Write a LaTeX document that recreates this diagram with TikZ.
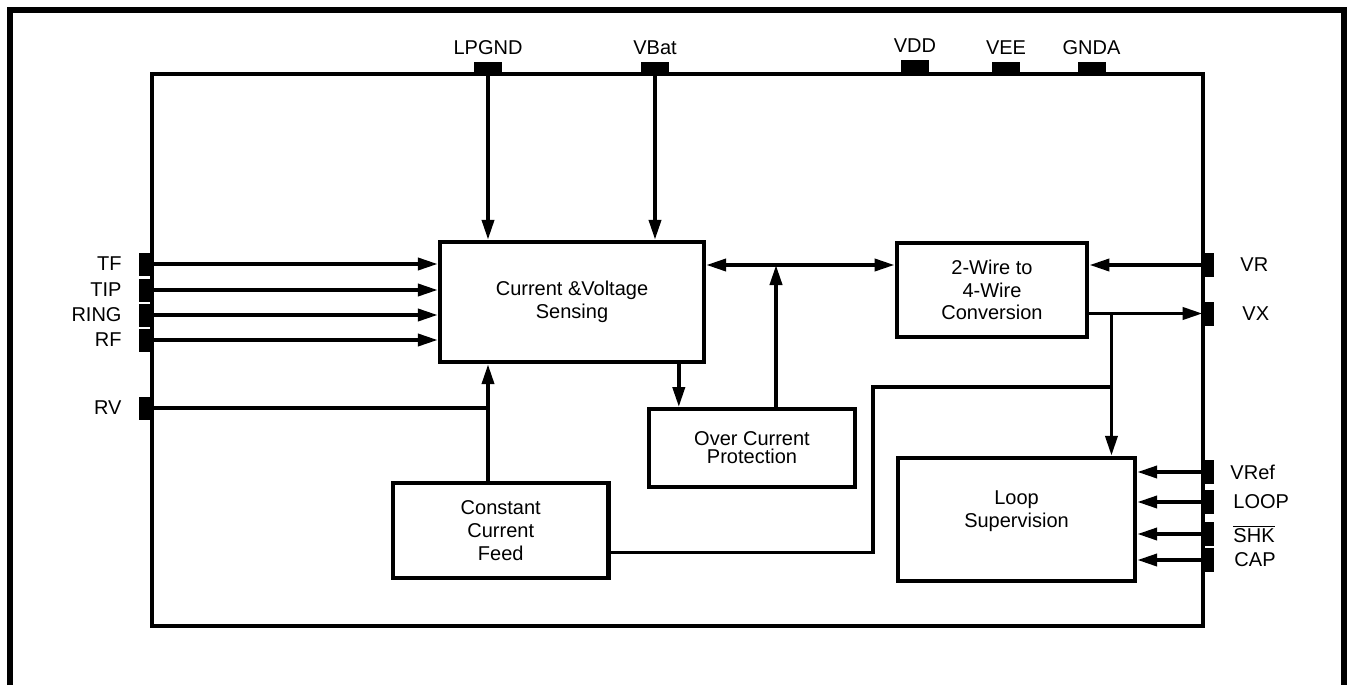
\documentclass[tikz,border=0pt]{standalone}
\usepackage{fontspec}
\setmainfont{Liberation Sans}
\usetikzlibrary{arrows.meta}
\tikzset{
  blk/.style={draw, line width=2.2pt, align=center, inner sep=0pt},
  pinbox/.style={fill=black, inner sep=0pt},
  toppin/.style={pinbox, minimum width=14pt, minimum height=5.5pt},
  lpin/.style={pinbox, minimum width=6.5pt, minimum height=11.5pt},
  rpin/.style={pinbox, minimum width=5.5pt, minimum height=12pt},
  wire/.style={line width=1.9pt},
  arr/.style={wire, -{Triangle[length=10pt,width=6pt]}},
  darr/.style={wire, {Triangle[length=10pt,width=6pt]}-{Triangle[length=10pt,width=6pt]}},
}
\begin{document}
\begin{tikzpicture}[x=0.5pt,y=-0.5pt,font=\fontsize{10pt}{11.4pt}\selectfont]
\useasboundingbox (0,0) rectangle (1348,685);
% frame and chip outline
\draw[line width=3pt] (10,685)--(10,9.5)--(1344,9.5)--(1344,685);
\draw[line width=2pt] (152,74) rectangle (1203,626);

% top pins
\node[toppin, label={[label distance=0pt]above:LPGND}] (lpgnd) at (488,67.5) {};
\node[toppin, label={[label distance=0pt]above:VBat}] (vbat) at (655,67.5) {};
\node[toppin, minimum height=6.5pt, label={[label distance=0pt]above:VDD}] (vdd) at (915,66) {};
\node[toppin, label={[label distance=0pt]above:VEE}] (vee) at (1006,67.5) {};
\node[toppin, label={[label distance=0pt]above:GNDA}] (gnda) at (1091.5,67.5) {};

% left pins
\node[lpin, label={[label distance=5pt]left:TF}] (tf) at (145.5,264) {};
\node[lpin, label={[label distance=5pt]left:TIP}] (tip) at (145.5,290) {};
\node[lpin, label={[label distance=5pt]left:RING}] (ring) at (145.5,315) {};
\node[lpin, label={[label distance=5pt]left:RF}] (rf) at (145.5,340) {};
\node[lpin, label={[label distance=5pt]left:RV}] (rv) at (145.5,408) {};

% right pins
\node[rpin, label={[label distance=9.5pt]right:VR}] (vr) at (1208.5,265) {};
\node[rpin, label={[label distance=10.5pt]right:VX}] (vx) at (1208.5,313.5) {};
\node[rpin, label={[label distance=4.5pt]right:VRef}] (vref) at (1208.5,472) {};
\node[rpin, label={[label distance=6pt]right:LOOP}] (loop) at (1208.5,502) {};
\node[rpin, label={[label distance=6pt]right:$\overline{\mbox{SHK}}$}] (shk) at (1208.5,534) {};
\node[rpin, label={[label distance=6.5pt]right:CAP}] (cap) at (1208.5,560) {};

% blocks
\node[blk, minimum width=132pt, minimum height=60pt] (cvs) at (572,302) {Current \&Voltage\\Sensing};
\node[blk, minimum width=95.25pt, minimum height=47.25pt] (tw) at (992,290) {2-Wire to\\4-Wire\\Conversion};
\node[blk, minimum width=103pt, minimum height=38.75pt, font=\fontsize{10pt}{9pt}\selectfont] (ocp) at (752,448) {Over Current\\Protection};
\node[blk, minimum width=107.75pt, minimum height=47.5pt] (ccf) at (500.75,530.5) {Constant\\Current\\Feed};
\node[blk, minimum width=118.5pt, minimum height=61.5pt, label={[align=center,yshift=4pt]center:Loop\\Supervision}] (ls) at (1016.5,519.5) {};

% connections
\draw[arr] (lpgnd.south) -- (lpgnd |- cvs.north);
\draw[arr] (vbat.south) -- (vbat |- cvs.north);
\foreach \p in {tf,tip,ring,rf}
  \draw[arr] (\p.east) -- (\p -| cvs.west);
\draw[wire] (rv.east) -- (rv -| lpgnd);
\draw[arr] (ccf.north -| lpgnd) -- (lpgnd |- cvs.south);
\draw[arr] ([xshift=16pt]cvs.south -| ocp.west) -- ([xshift=16pt]ocp.north west);
\draw[darr] (cvs.east |- vr) -- (tw.west |- vr);
\draw[arr] ([xshift=12pt]ocp.north) -- ([xshift=12pt]ocp.north |- vr);
\draw[arr] (vr.west) -- (vr -| tw.east);
\draw[arr] (vx -| tw.east) -- (vx.west);
\coordinate (tap) at ([xshift=11pt]tw.east |- vx);
\draw[arr] (tap) -- (tap |- ls.north);
\coordinate (knee) at ([xshift=8pt,yshift=10pt]ocp.north east);
\draw[wire] ([yshift=-11pt]ccf.east) -| (knee) -- (knee -| tap);
\foreach \p in {vref,loop,shk,cap}
  \draw[arr] (\p.west) -- (\p -| ls.east);
\end{tikzpicture}
\end{document}
